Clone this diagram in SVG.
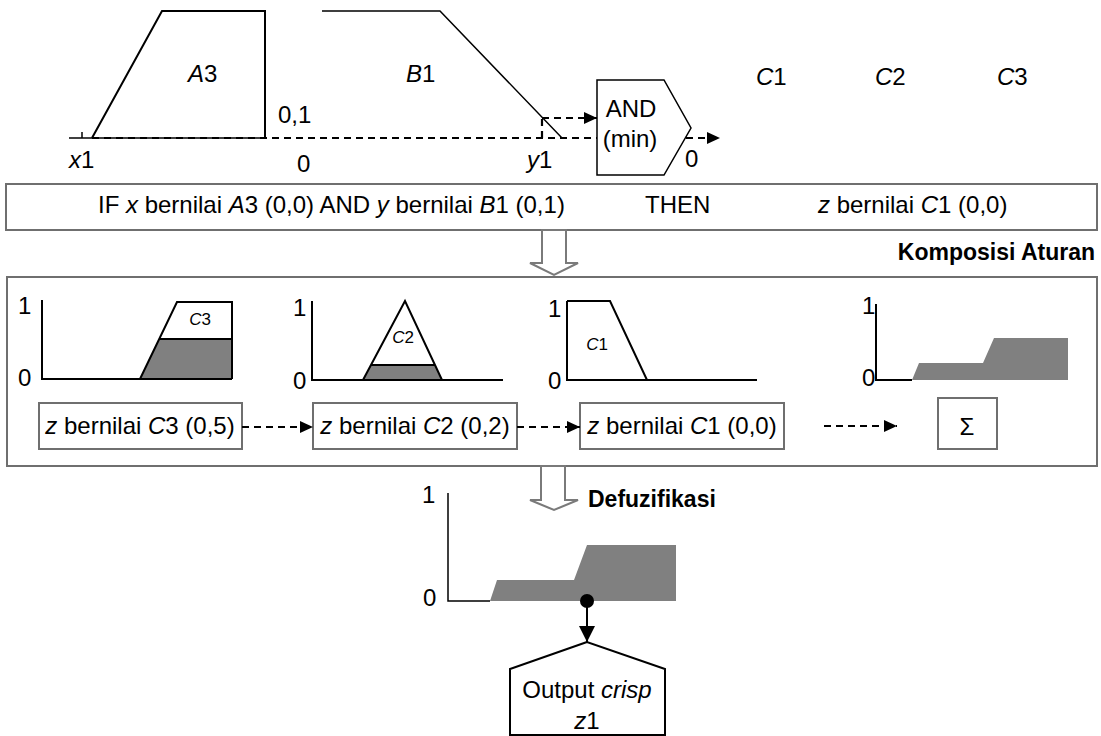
<svg xmlns="http://www.w3.org/2000/svg" width="1101" height="736" viewBox="0 0 1101 736">
<style>
text{font-family:"Liberation Sans",Arial,sans-serif;font-size:24px;fill:#000}
.sm{font-size:17px}
.b{font-weight:bold;font-size:23px}
.mid{text-anchor:middle}
.box{fill:#fff;stroke:#6f6f6f;stroke-width:2}
.ln{fill:none;stroke:#000;stroke-width:2}
.thin{fill:none;stroke:#000;stroke-width:1.5}
.dash{fill:none;stroke:#000;stroke-width:2.2;stroke-dasharray:7,5}
.gray{fill:#808080;stroke:none}
.hollow{fill:#fff;stroke:#7a7a7a;stroke-width:2}
</style>
<defs>
<marker id="ah" markerWidth="13" markerHeight="12" refX="13" refY="6" orient="auto" markerUnits="userSpaceOnUse"><path d="M0,0 L13,6 L0,12 z" fill="#000"/></marker>
<marker id="ah2" markerWidth="16" markerHeight="16" refX="16" refY="8" orient="auto" markerUnits="userSpaceOnUse"><path d="M0,0 L16,8 L0,16 z" fill="#000"/></marker>
</defs>

<g id="input-A3">
<line x1="69" y1="138" x2="265" y2="138" class="thin"/>
<line x1="82" y1="132" x2="82" y2="138" class="thin"/>
<polyline points="92,138 162,11 265,11 265,138" class="ln"/>
<text x="188" y="82"><tspan font-style="italic">A</tspan>3</text>
<text x="278" y="123">0,1</text>
<text x="69" y="168"><tspan font-style="italic">x</tspan>1</text>
<text x="297" y="172">0</text>
</g>

<g id="input-B1">
<polyline points="322,11 440,11 562,138" class="thin"/>
<text x="406" y="82"><tspan font-style="italic">B</tspan>1</text>
<text x="527" y="168"><tspan font-style="italic">y</tspan>1</text>
</g>

<g id="and-min">
<polygon points="597,80 664,80 691,128 664,175 597,175" fill="#fff" stroke="#000" stroke-width="1.5"/>
<text x="631" y="117" class="mid">AND</text>
<text x="630" y="147" class="mid">(min)</text>
<text x="685" y="167">0</text>
</g>

<g id="output-sets">
<text x="756" y="85"><tspan font-style="italic">C</tspan>1</text>
<text x="875" y="85"><tspan font-style="italic">C</tspan>2</text>
<text x="997" y="85"><tspan font-style="italic">C</tspan>3</text>
</g>

<g id="rule">
<rect x="6" y="184" width="1091" height="46" class="box"/>
<text x="98" y="213">IF <tspan font-style="italic">x</tspan> bernilai <tspan font-style="italic">A</tspan>3 (0,0) AND <tspan font-style="italic">y</tspan> bernilai <tspan font-style="italic">B</tspan>1 (0,1)</text>
<text x="645" y="213">THEN</text>
<text x="818" y="213"><tspan font-style="italic">z</tspan> bernilai <tspan font-style="italic">C</tspan>1 (0,0)</text>
</g>

<g id="komposisi">
<text x="1095" y="260" class="b" text-anchor="end">Komposisi Aturan</text>
<rect x="7" y="277" width="1090" height="189" class="box"/>
</g>

<g id="chart-C3">
<polygon points="140,379 159,339 232,339 232,379" class="gray"/>
<polyline points="42,300 42,379 232,379" class="ln"/>
<polyline points="140,379 177,302 232,302 232,379" class="ln"/>
<line x1="159" y1="339" x2="232" y2="339" class="ln"/>
<text x="200" y="325" class="sm mid"><tspan font-style="italic">C</tspan>3</text>
<text x="18" y="314">1</text>
<text x="18" y="386">0</text>
</g>

<g id="chart-C2">
<polygon points="363,380 371,365 435,365 442,380" class="gray"/>
<polyline points="312,301 312,380 503,380" class="ln"/>
<polyline points="363,380 405,301 442,380" class="ln"/>
<line x1="371" y1="365" x2="435" y2="365" class="ln"/>
<text x="403" y="343" class="sm mid"><tspan font-style="italic">C</tspan>2</text>
<text x="293" y="316">1</text>
<text x="293" y="389">0</text>
</g>

<g id="chart-C1">
<polyline points="567,301 567,380 757,380" class="ln"/>
<polyline points="567,301 610,301 647,380" class="ln"/>
<text x="597" y="350" class="sm mid"><tspan font-style="italic">C</tspan>1</text>
<text x="548" y="317">1</text>
<text x="548" y="389">0</text>
</g>

<g id="chart-sum">
<polyline points="876,304 876,380 912,380" class="ln"/>
<polygon points="912,380 919,363 983,363 994,338 1068,338 1068,380" class="gray"/>
<text x="862" y="314">1</text>
<text x="862" y="386">0</text>
</g>

<g id="box-C3">
<rect x="39" y="403" width="203" height="46" class="box"/>
<text x="140" y="434" class="mid"><tspan font-style="italic">z</tspan> bernilai <tspan font-style="italic">C</tspan>3 (0,5)</text>
</g>
<g id="box-C2">
<rect x="313" y="403" width="204" height="46" class="box"/>
<text x="415" y="434" class="mid"><tspan font-style="italic">z</tspan> bernilai <tspan font-style="italic">C</tspan>2 (0,2)</text>
</g>
<g id="box-C1">
<rect x="580" y="403" width="204" height="46" class="box"/>
<text x="682" y="434" class="mid"><tspan font-style="italic">z</tspan> bernilai <tspan font-style="italic">C</tspan>1 (0,0)</text>
</g>
<g id="box-sum">
<rect x="938" y="398" width="59" height="51" class="box"/>
<text x="967" y="435" class="mid" font-size="26">Σ</text>
</g>

<g id="defuzifikasi">
<text x="588" y="507" class="b">Defuzifikasi</text>
<polyline points="448,493 448,601 490,601" class="thin"/>
<polygon points="490,601 497,580 574,580 587,545 676,545 676,601" class="gray"/>
<text x="422" y="503">1</text>
<text x="423" y="606">0</text>
<circle cx="587" cy="601" r="7" fill="#000"/>
</g>

<g id="output-crisp">
<polygon points="587,642 510,669 510,735 665,735 665,669" fill="#fff" stroke="#000" stroke-width="2"/>
<text x="587" y="698" class="mid">Output <tspan font-style="italic">crisp</tspan></text>
<text x="587" y="729" class="mid"><tspan font-style="italic">z</tspan>1</text>
</g>

<g id="connectors">
<line x1="92" y1="138" x2="597" y2="138" class="dash"/>
<line x1="542" y1="138" x2="542" y2="118" class="dash" stroke-width="1.5"/>
<line x1="542" y1="118" x2="597" y2="118" class="dash" marker-end="url(#ah)"/>
<line x1="686" y1="138" x2="720" y2="138" class="dash" marker-end="url(#ah)"/>
<polygon points="542,230 566,230 566,263 578,263 554,275 530,263 542,263" class="hollow"/>
<line x1="242" y1="427" x2="313" y2="427" class="dash" marker-end="url(#ah)"/>
<line x1="517" y1="427" x2="580" y2="427" class="dash" marker-end="url(#ah)"/>
<line x1="824" y1="426" x2="897" y2="426" class="dash" marker-end="url(#ah)"/>
<polygon points="541,466 565,466 565,500 578,500 554,510 530,500 541,500" class="hollow"/>
<line x1="587" y1="601" x2="587" y2="642" stroke="#000" stroke-width="2" marker-end="url(#ah2)"/>
</g>
</svg>
